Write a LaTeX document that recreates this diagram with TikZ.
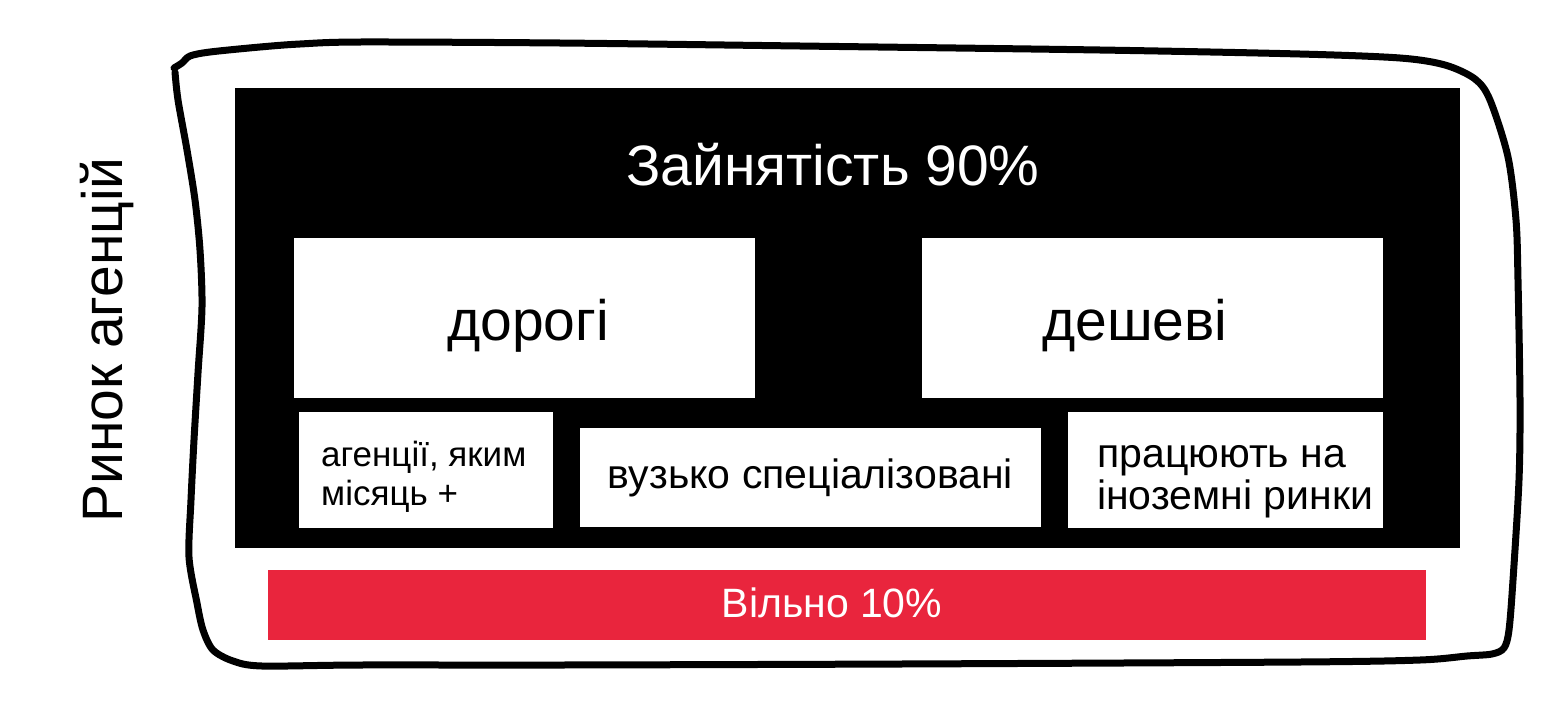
\documentclass[tikz,border=0pt]{standalone}
\usepackage{fontspec}
\setmainfont{Liberation Sans}
\definecolor{vilnoRed}{RGB}{233,37,61}
\newcommand{\bigSize}{\fontsize{57}{64}\selectfont}
\newcommand{\noteSize}{\fontsize{35}{39}\selectfont}
\newcommand{\wideNoteSize}{\fontsize{41}{42}\selectfont}
\newcommand{\barSize}{\fontsize{41}{48}\selectfont}

\begin{document}
\begin{tikzpicture}[x=1pt, y=-1pt, line cap=round, line join=round,
		panel/.style={inner sep=0pt, outer sep=0pt, anchor=north west},
		whitebox/.style={panel, fill=white},
		notetext/.style={font=\noteSize, align=left, anchor=west, inner sep=0pt}]
	\useasboundingbox (0,0) rectangle (1559,718);
	% hand drawn frame
	\draw[line width=7pt] plot[smooth, tension=0.5] coordinates {
		(174,68) (182,63) (190,56) (210,52) (260,47) (300,44) (360,42) (560,43)
		(800,46) (1100,50) (1300,54) (1400,58) (1445,65) (1475,79) (1490,100)
		(1508,157) (1516,220) (1518,280) (1520,400) (1519,480) (1513,580)
		(1509,630) (1504,648) (1492,654) (1467,656) (1420,660) (1300,662)
		(900,664) (560,665) (360,665) (262,666) (233,661) (213,650) (203,630)
		(197,603) (189,557) (191,500) (194,440) (198,373) (202,307) (200,250)
		(195,200) (187,150) (178,100) (175,72)};
	\node[rotate=90, anchor=base, font=\bigSize] (marketLabel) at (122,340) {Ринок агенцій};
	%\begin{busy}
		\node[panel, fill=black, minimum width=1225, minimum height=460] (busy) at (235,88) {};
		\node[anchor=base, text=white, font=\bigSize] (busyTitle) at (833,185) {Зайнятість 90\%};
		\node[whitebox, minimum width=461, minimum height=160] (expensive) at (294,238) {};
		\node[anchor=base, font=\bigSize] (expensiveText) at (528,340) {дорогі};
		\node[whitebox, minimum width=461, minimum height=160] (cheap) at (922,238) {};
		\node[anchor=base, font=\bigSize] (cheapText) at (1135,340) {дешеві};
		\node[whitebox, minimum width=254, minimum height=116] (monthBox) at (299,412) {};
		\node[notetext] (monthText) at (321,477) {агенції, яким\\місяць +};
		\node[whitebox, minimum width=461, minimum height=99, font=\wideNoteSize] (nicheBox) at (580,428) {вузько спеціалізовані};
		\node[whitebox, minimum width=315, minimum height=116] (foreignBox) at (1068,412) {};
		\node[notetext, font=\wideNoteSize] (foreignText) at (1097,482) {працюють на\\іноземні ринки};
	%\end{busy}
	\node[panel, fill=vilnoRed, minimum width=1158, minimum height=70] (free) at (268,570) {};
	\node[anchor=base, text=white, font=\barSize] (freeText) at (832,617) {Вільно 10\%};
\end{tikzpicture}
\end{document}
